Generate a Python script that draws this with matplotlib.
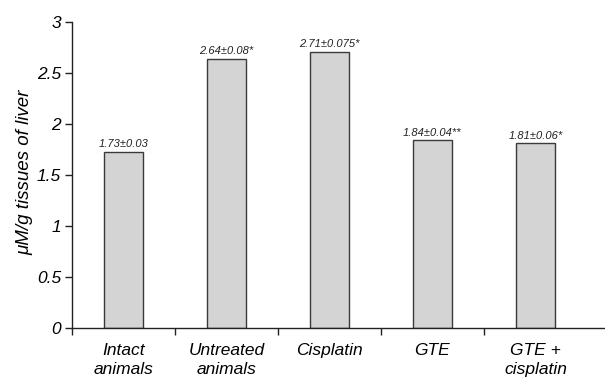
import matplotlib
matplotlib.use("Agg")
import matplotlib.pyplot as plt
from matplotlib import font_manager

categories = ["Intact\nanimals", "Untreated\nanimals", "Cisplatin", "GTE", "GTE +\ncisplatin"]
values = [1.73, 2.64, 2.71, 1.84, 1.81]
errors = ["0.03", "0.08", "0.075", "0.04", "0.06"]
marks = ["", "*", "*", "**", "*"]
yticks = [0, 0.5, 1, 1.5, 2, 2.5, 3]
ytick_labels = ["0", "0.5", "1", "1.5", "2", "2.5", "3"]

names = {f.name for f in font_manager.fontManager.ttflist}
fam = [n for n in ["Liberation Sans Narrow", "Liberation Sans", "DejaVu Sans"] if n in names]
plt.rcParams["font.family"] = fam
plt.rcParams["font.style"] = "italic"

fig = plt.figure(figsize=(6.05, 3.83), dpi=100)
ax = fig.add_axes([72 / 605, 1 - 328 / 383, 1 - 72 / 605, (328 - 22) / 383])

x = list(range(len(categories)))
bars = ax.bar(x, values, width=0.37, color="#d4d4d4", edgecolor="#3a3a3a", linewidth=1.0)

for xi, v, e, m in zip(x, values, errors, marks):
    ax.annotate(f"{v:.2f}\u00b1{e}{m}", (xi, v), xytext=(0, 2), textcoords="offset points",
                ha="center", va="bottom", fontsize=8, style="italic", color="#222222")

ax.set_ylim(0, 3)
ax.set_xlim(-0.5, 4.675)
ax.set_yticks(yticks)
ax.set_yticklabels(ytick_labels, fontsize=12.5, style="italic")
ax.set_xticks([i + 0.5 for i in range(-1, 4)])
ax.set_xticklabels([])
ax.set_xticks(x, minor=True)
ax.set_xticklabels(categories, minor=True, fontsize=12.5, style="italic", linespacing=1.3)
ax.tick_params(axis="x", which="minor", length=0, pad=11)
ax.tick_params(axis="x", which="major", length=5, width=1, direction="out", color="#222222")
ax.tick_params(axis="y", length=5, width=1, direction="out", color="#222222", pad=3)

ax.spines["top"].set_visible(False)
ax.spines["right"].set_visible(False)
for s in ("left", "bottom"):
    ax.spines[s].set_color("#222222")
    ax.spines[s].set_linewidth(1.0)

ax.set_ylabel("\u03bcM/g tissues of liver", fontsize=13.5, style="italic", va="center")
ax.yaxis.set_label_coords(-0.088, 0.51)

fig.savefig("out.png", dpi=100)
